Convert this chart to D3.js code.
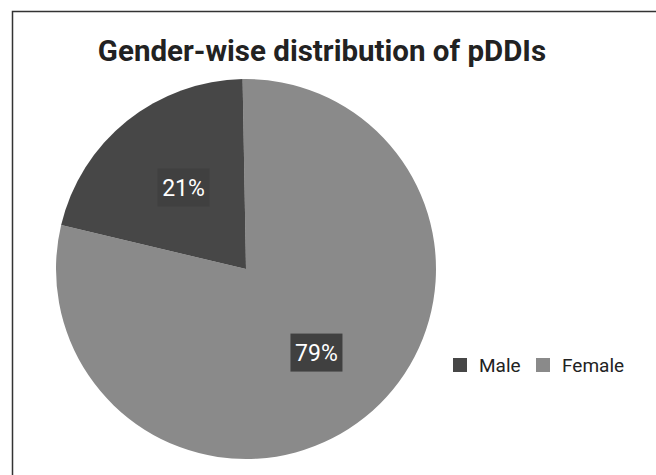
<!DOCTYPE html>
<html>
<head>
<meta charset="utf-8">
<script src="https://cdn.jsdelivr.net/npm/d3@7"></script>
<style>
  body { margin: 0; background: #fff; }
  svg { display: block; font-family: Roboto, "Liberation Sans", sans-serif; }
</style>
</head>
<body>
<script>
// chart data
var categories = ["Male", "Female"];
var values = [21, 79];
var colors = ["#474747", "#8a8a8a"];
var title = "Gender-wise distribution of pDDIs";

var W = 656, H = 475;
var cx = 246, cy = 269, R = 190;

var svg = d3.select("body").append("svg")
  .attr("width", W)
  .attr("height", H);

// frame (runs off the right/bottom edge)
svg.append("rect")
  .attr("x", 12.5).attr("y", 11.5)
  .attr("width", 800).attr("height", 600)
  .attr("fill", "#fff")
  .attr("stroke", "#333")
  .attr("stroke-width", 1.5);

svg.append("text")
  .attr("x", 322).attr("y", 61)
  .attr("text-anchor", "middle")
  .attr("font-size", 29.5)
  .attr("font-weight", "bold")
  .attr("fill", "#222")
  .text(title);

var data = categories.map(function(c, i){ return {name: c, value: values[i], color: colors[i]}; });

// female goes clockwise from 12 o'clock, male fills the rest
var pie = d3.pie()
  .sort(null)
  .value(function(d){ return d.value; })
  .startAngle(-0.018)
  .endAngle(2 * Math.PI - 0.018);

var arcs = pie([data[1], data[0]]);

var arc = d3.arc().innerRadius(0).outerRadius(R);
var labelArc = d3.arc().innerRadius(106).outerRadius(106);

var g = svg.append("g").attr("transform", "translate(" + cx + "," + cy + ")");

g.selectAll("path")
  .data(arcs)
  .enter()
  .append("path")
    .attr("d", arc)
    .attr("fill", function(d){ return d.data.color; });

var total = d3.sum(values);
var labels = g.selectAll("g.lbl")
  .data(arcs)
  .enter()
  .append("g")
    .attr("class", "lbl")
    .attr("transform", function(d){
      var c = labelArc.centroid(d);
      return "translate(" + (c[0] + 4) + "," + (c[1] + 1) + ")";
    });

labels.append("rect")
  .attr("x", -26).attr("y", -19)
  .attr("width", 52).attr("height", 38)
  .attr("fill", "#404040");

labels.append("text")
  .attr("text-anchor", "middle")
  .attr("dy", "0.36em")
  .attr("font-size", 23)
  .attr("fill", "#fff")
  .text(function(d){ return Math.round(d.data.value / total * 100) + "%"; });

// legend
var legX = [453, 536];
var leg = svg.selectAll("g.leg")
  .data(data)
  .enter()
  .append("g")
    .attr("class", "leg")
    .attr("transform", function(d, i){ return "translate(" + legX[i] + ",365)"; });

leg.append("rect")
  .attr("x", 0).attr("y", -7)
  .attr("width", 14).attr("height", 14)
  .attr("fill", function(d){ return d.color; });

leg.append("text")
  .attr("x", 26)
  .attr("dy", "0.36em")
  .attr("font-size", 19)
  .attr("fill", "#222")
  .text(function(d){ return d.name; });
</script>
</body>
</html>
